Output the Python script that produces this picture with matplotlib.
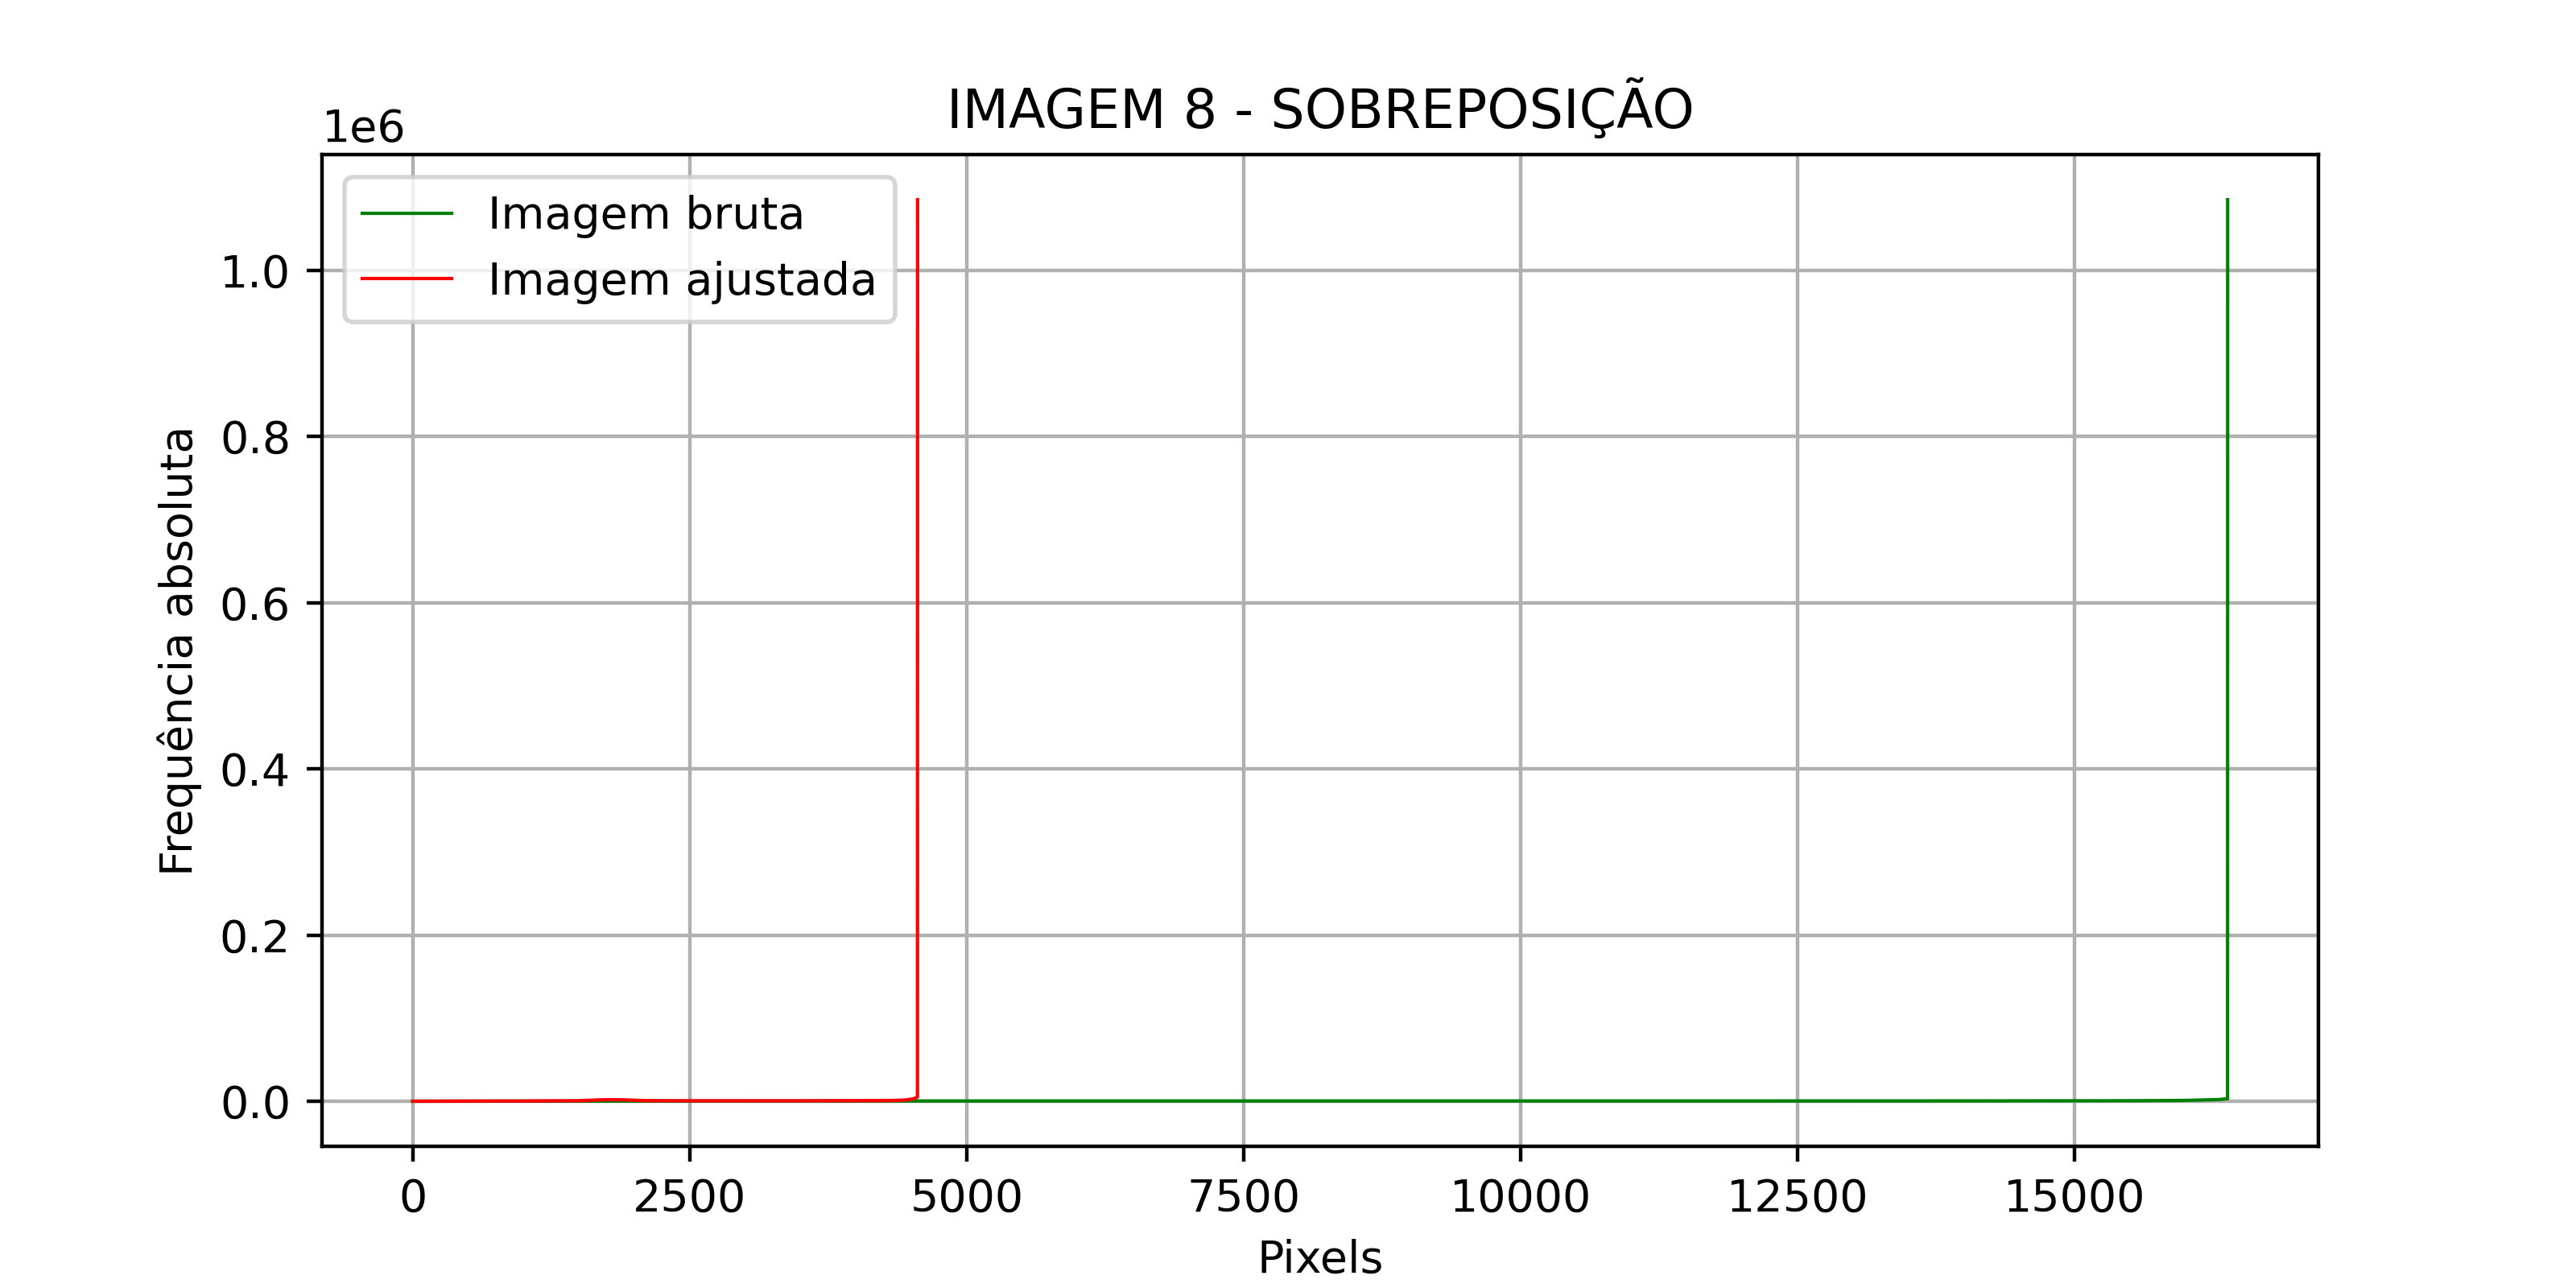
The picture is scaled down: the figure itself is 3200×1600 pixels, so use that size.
import matplotlib
matplotlib.use("Agg")
import matplotlib.pyplot as plt

# Vertices of the histogram curves (pixel value -> absolute frequency)
bruta_x = [0, 2000, 4000, 6000, 8000, 10000, 12000, 14000, 15500, 16000, 16300, 16382, 16383]
bruta_y = [0, 200, 300, 300, 300, 300, 300, 400, 600, 1000, 2000, 3000, 1085000]

ajust_x = [0, 1000, 1500, 1600, 1700, 1800, 1900, 2000, 2100, 2500, 3500, 4300, 4450, 4520, 4556, 4557]
ajust_y = [0, 300, 600, 1200, 1700, 1900, 1700, 1200, 700, 500, 500, 800, 1500, 3000, 5000, 1085000]

fig, ax = plt.subplots(figsize=(8, 4), dpi=400)
ax.plot(bruta_x, bruta_y, color="green", linewidth=0.75, label="Imagem bruta")
ax.plot(ajust_x, ajust_y, color="red", linewidth=0.75, label="Imagem ajustada")
ax.set_title("IMAGEM 8 - SOBREPOSIÇÃO")
ax.set_xlabel("Pixels")
ax.set_ylabel("Frequência absoluta")
ax.grid(True)
ax.legend(loc="upper left")
fig.savefig("out.png", dpi=400)
